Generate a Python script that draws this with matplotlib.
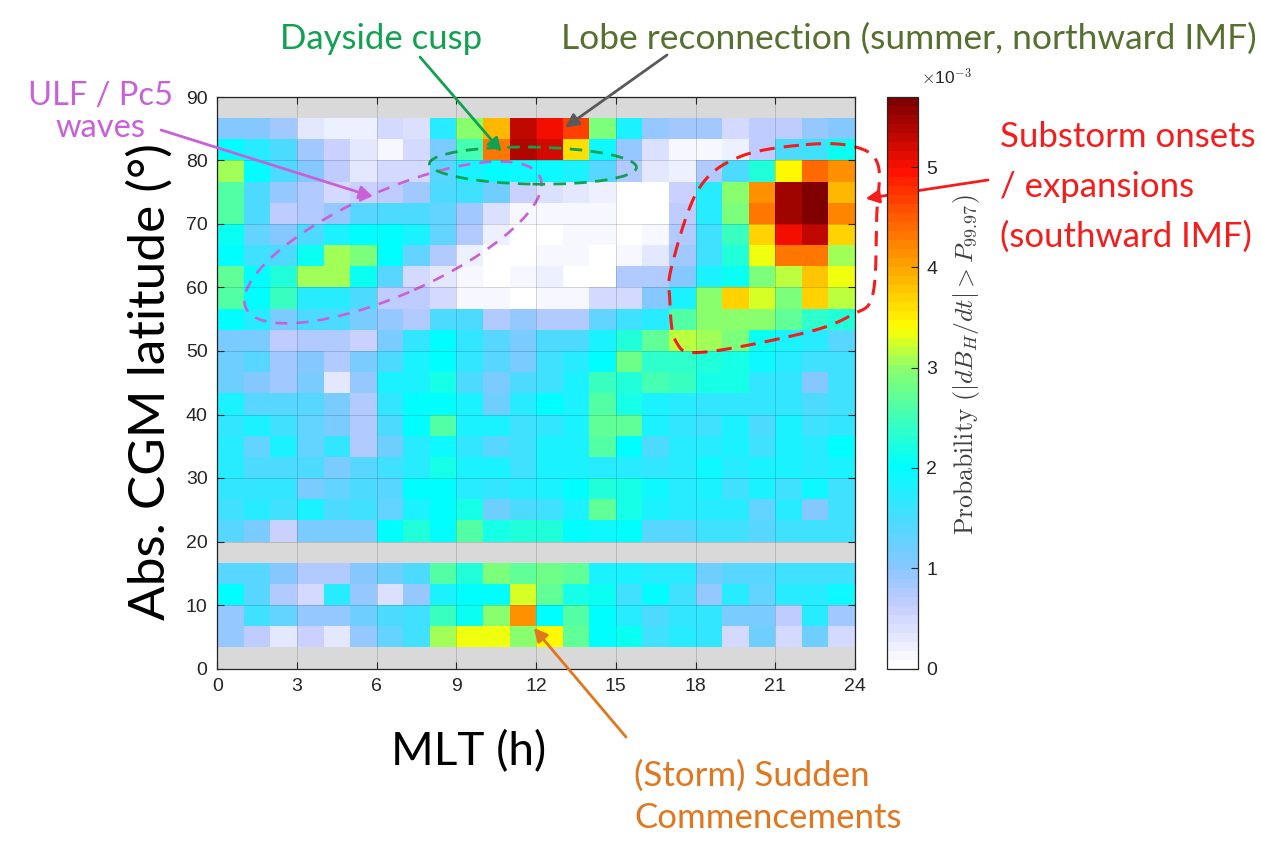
import numpy as np
import matplotlib
matplotlib.use("Agg")
import matplotlib.pyplot as plt
from matplotlib.colors import LinearSegmentedColormap
from matplotlib.patches import Ellipse
from matplotlib.transforms import ScaledTranslation
from matplotlib.ticker import FuncFormatter

plt.rcParams['font.family'] = ['Liberation Sans', 'DejaVu Sans']
plt.rcParams['mathtext.fontset'] = 'cm'

# bins: 1 h in MLT, 10/3 deg in |CGM latitude|
mlt_edges = np.arange(0, 25)
lat_edges = np.linspace(0, 90, 28)

# probability of |dB_H/dt| > P99.97, in units of 1e-3
# rows run north -> south, 86.7 deg down to 20 deg
prob_high = [
    [1.0, 1.05, 0.85, 0.3, 0.2, 0.2, 0.5, 0.4, 1.7, 3.0, 3.9, 5.3, 5.0, 4.7, 2.85, 1.85, 0.95, 0.85, 0.85, 0.5, 0.7, 0.7, 0.95, 1.05],
    [2.0, 1.7, 1.5, 0.85, 0.6, 0.35, 0.15, 0.5, 1.1, 2.5, 4.3, 5.4, 5.25, 3.6, 1.9, 0.95, 0.4, 0.1, 0.1, 0.25, 0.7, 1.5, 1.55, 2.1],
    [3.1, 2.0, 1.5, 1.0, 0.7, 0.3, 0.45, 0.5, 1.4, 1.8, 2.0, 1.95, 1.9, 1.85, 1.4, 0.8, 0.3, 0.2, 0.8, 1.5, 2.3, 3.4, 4.4, 4.1],
    [2.6, 1.5, 0.95, 0.8, 0.5, 0.6, 0.7, 0.85, 1.5, 1.55, 1.2, 0.6, 0.4, 0.3, 0.2, 0.05, 0.05, 0.6, 1.75, 3.0, 4.15, 5.45, 5.65, 3.9],
    [2.6, 1.5, 0.7, 0.8, 0.95, 1.4, 1.5, 1.5, 1.3, 0.85, 0.4, 0.1, 0.15, 0.15, 0.15, 0.05, 0.05, 0.7, 1.75, 2.85, 4.3, 5.45, 5.7, 4.2],
    [2.05, 1.3, 1.05, 1.5, 1.85, 2.0, 2.0, 1.8, 1.3, 0.8, 0.2, 0.08, 0.02, 0.1, 0.1, 0.0, 0.1, 0.8, 1.55, 2.45, 3.7, 5.05, 5.3, 3.7],
    [2.0, 1.6, 1.5, 2.05, 3.1, 2.85, 2.0, 1.25, 0.8, 0.25, 0.05, 0.0, 0.1, 0.1, 0.05, 0.1, 0.3, 0.85, 1.6, 2.3, 3.3, 4.35, 4.35, 3.1],
    [2.7, 2.0, 2.3, 3.1, 3.1, 2.05, 1.4, 0.5, 0.3, 0.1, 0.05, 0.1, 0.2, 0.05, 0.05, 0.8, 0.8, 1.05, 1.8, 2.05, 2.85, 3.2, 3.8, 3.3],
    [2.6, 2.0, 2.45, 1.75, 1.75, 1.5, 0.7, 0.7, 0.5, 0.15, 0.15, 0.0, 0.15, 0.15, 0.5, 0.5, 1.0, 1.8, 3.0, 3.7, 3.25, 2.85, 3.7, 3.2],
    [2.0, 1.75, 1.1, 1.5, 1.5, 1.1, 0.95, 0.8, 1.5, 1.5, 0.8, 0.95, 0.8, 0.8, 1.3, 1.55, 1.75, 2.6, 3.0, 3.0, 3.0, 2.75, 2.35, 2.3],
    [1.1, 1.1, 0.65, 0.8, 0.8, 0.6, 1.1, 1.65, 2.0, 1.65, 1.4, 1.1, 1.5, 1.5, 1.8, 2.3, 2.75, 3.2, 3.05, 2.85, 2.05, 1.8, 1.7, 1.4],
    [1.2, 1.35, 0.85, 1.0, 0.8, 1.1, 1.5, 1.8, 2.0, 1.65, 1.4, 1.1, 1.55, 1.7, 2.0, 2.8, 2.4, 2.4, 2.3, 2.15, 1.9, 1.75, 1.6, 1.55],
    [1.2, 1.0, 0.85, 1.1, 0.35, 0.95, 1.8, 1.85, 2.15, 1.5, 1.1, 1.5, 1.55, 1.8, 2.45, 2.3, 2.5, 2.45, 2.15, 2.15, 1.65, 1.65, 1.0, 1.55],
    [1.85, 1.4, 1.4, 1.4, 1.1, 0.8, 1.65, 2.0, 2.0, 1.85, 1.2, 1.7, 2.0, 1.8, 2.6, 2.15, 1.8, 1.7, 1.65, 1.65, 1.65, 1.65, 1.5, 1.6],
    [1.65, 1.8, 1.55, 1.3, 1.1, 0.8, 1.5, 2.0, 2.6, 1.8, 1.85, 1.55, 1.65, 1.8, 2.7, 2.7, 1.8, 1.65, 1.6, 1.8, 1.5, 1.85, 1.6, 1.65],
    [1.75, 1.3, 1.8, 1.3, 1.65, 0.8, 1.2, 1.75, 1.9, 1.65, 1.4, 1.6, 1.8, 1.8, 2.6, 2.0, 1.5, 1.7, 1.7, 1.8, 1.6, 1.85, 1.7, 2.0],
    [1.75, 1.5, 1.5, 1.5, 1.1, 1.4, 1.6, 1.75, 2.15, 1.8, 1.8, 1.55, 1.8, 1.8, 1.75, 1.7, 1.65, 1.7, 1.9, 1.7, 1.85, 1.8, 1.7, 1.8],
    [1.65, 1.65, 1.65, 1.1, 1.3, 1.5, 1.4, 2.0, 2.0, 1.7, 1.65, 1.7, 1.8, 2.0, 2.3, 2.2, 1.9, 1.7, 1.8, 1.55, 1.85, 1.6, 1.9, 1.55],
    [1.55, 1.7, 1.55, 1.8, 1.5, 1.6, 1.3, 1.85, 2.0, 2.15, 1.2, 1.5, 1.6, 1.85, 2.7, 2.15, 1.8, 1.75, 1.75, 1.75, 1.3, 1.7, 1.05, 1.6],
    [1.4, 1.1, 0.6, 1.1, 1.1, 1.1, 2.0, 2.3, 2.0, 2.65, 2.15, 2.25, 2.3, 2.0, 1.95, 2.0, 1.4, 1.4, 1.55, 1.6, 1.4, 1.55, 1.6, 1.55],
]
# 16.7 deg down to 3.3 deg
prob_low = [
    [1.4, 1.4, 1.0, 0.8, 0.8, 1.0, 1.2, 1.5, 2.6, 2.3, 2.85, 2.75, 2.8, 2.7, 1.8, 1.85, 1.7, 1.7, 1.2, 1.4, 1.4, 1.55, 1.55, 1.55],
    [2.0, 1.4, 0.8, 0.5, 1.7, 0.95, 0.4, 0.95, 1.8, 2.0, 2.0, 3.25, 2.75, 2.15, 2.1, 1.55, 2.0, 1.55, 0.95, 1.7, 1.3, 1.75, 1.75, 1.9],
    [0.95, 1.55, 1.3, 0.95, 0.95, 1.2, 1.5, 1.6, 2.45, 2.05, 2.95, 4.1, 2.0, 2.6, 2.0, 1.7, 1.5, 1.65, 1.65, 1.15, 1.15, 0.65, 1.75, 0.85],
    [0.95, 0.7, 0.35, 0.6, 0.35, 0.95, 1.3, 1.55, 3.05, 3.3, 3.35, 2.95, 3.4, 2.75, 2.0, 2.1, 1.6, 1.7, 1.65, 0.5, 1.2, 0.5, 1.2, 0.5],
]

cbar_ticks = [0, 1, 2, 3, 4, 5]
vmax = 5.7

# stack south -> north, empty bands (no stations) left as NaN
empty = [np.nan] * 24
grid = np.array([empty] + prob_low[::-1] + [empty] + prob_high[::-1] + [empty]) * 1e-3
grid = np.ma.masked_invalid(grid)

# white -> blue -> cyan -> yellow -> red colour scale, 64 levels
anchors = [
    (0.0, (1.0, 1.0, 1.0)),
    (0.6, (0.77, 0.80, 1.0)),
    (1.0, (0.52, 0.78, 1.0)),
    (1.5, (0.27, 0.87, 1.0)),
    (2.0, (0.0, 1.0, 1.0)),
    (2.5, (0.25, 1.0, 0.72)),
    (3.0, (0.55, 1.0, 0.42)),
    (3.4, (1.0, 1.0, 0.0)),
    (4.0, (1.0, 0.66, 0.0)),
    (4.5, (1.0, 0.38, 0.0)),
    (5.0, (1.0, 0.06, 0.0)),
    (5.7, (0.5, 0.0, 0.0)),
]
cmap = LinearSegmentedColormap.from_list('wjet', [(v / vmax, c) for v, c in anchors]).resampled(64)
cmap.set_bad('#d9d9d9')

W, H = 1261, 843
fig = plt.figure(figsize=(W / 100, H / 100), dpi=100)


def fx(px):
    return px / W


def fy(py):
    return 1 - py / H


ax = fig.add_axes([fx(217.3), fy(668.5), (855 - 217.3) / W, (668.5 - 97) / H])
mesh = ax.pcolormesh(mlt_edges, lat_edges, grid, cmap=cmap, vmin=0, vmax=vmax * 1e-3)
ax.set_xlim(0, 24)
ax.set_ylim(0, 90)
ax.set_xticks(range(0, 25, 3))
ax.set_yticks(range(0, 91, 10))
ax.tick_params(direction='in', top=True, right=True, length=5, width=0.8,
               colors='#262626', labelsize=14, pad=7)
ax.grid(True, color='k', alpha=0.15, lw=0.7)
ax.set_axisbelow(False)
for s in ax.spines.values():
    s.set_color('#262626')
    s.set_linewidth(0.9)

cax = fig.add_axes([fx(887), fy(668.5), 31 / W, (668.5 - 97) / H])
cb = fig.colorbar(mesh, cax=cax, ticks=np.array(cbar_ticks) * 1e-3)
cb.ax.yaxis.set_major_formatter(FuncFormatter(lambda v, p: f"{v * 1e3:.0f}"))
cb.ax.tick_params(direction='in', length=5, width=0.8, labelsize=14, colors='#262626', pad=6)
cb.outline.set_edgecolor('#262626')
cb.outline.set_linewidth(0.9)
fig.text(fx(921), fy(77), r'$\times$10$^{-3}$', fontsize=12.5, color='#262626', va='center')
fig.text(fx(966), fy(365), r'$\mathrm{Probability}\ (|dB_H/dt| > P_{99.97})$', rotation=90,
         ha='center', va='center', fontsize=18.5, color='#404040')

# axis titles
fig.text(fx(150), fy(381), 'Abs. CGM latitude (°)', rotation=90, ha='center', va='center',
         fontsize=37, family='Lato', color='black')
fig.text(fx(469), fy(765), 'MLT (h)', ha='center', va='baseline', fontsize=33,
         family='Lato', color='black')


def px_ellipse(cx, cy, w, h, angle, **kw):
    # ellipse centred on a data point, size given in pixels
    tr = fig.dpi_scale_trans + ScaledTranslation(cx, cy, ax.transData)
    ax.add_patch(Ellipse((0, 0), w / fig.dpi, h / fig.dpi, angle=angle, transform=tr,
                         fill=False, clip_on=False, **kw))


def closed_spline(pts, n=24):
    # Catmull-Rom curve through the points, closed loop
    pts = np.asarray(pts, float)
    k = len(pts)
    t = np.linspace(0, 1, n, endpoint=False)[:, None]
    out = []
    for i in range(k):
        p0, p1, p2, p3 = pts[i - 1], pts[i], pts[(i + 1) % k], pts[(i + 2) % k]
        out.append(0.5 * (2 * p1 + (-p0 + p2) * t + (2 * p0 - 5 * p1 + 4 * p2 - p3) * t ** 2
                          + (-p0 + 3 * p1 - 3 * p2 + p3) * t ** 3))
    out = np.vstack(out)
    return np.vstack([out, out[:1]])


c_cusp = '#12a150'
c_lobe = '#56702f'
c_ulf = '#c860d8'
c_sub = '#f51c1c'
c_sc = '#e0761e'
c_gray = '#595959'

# ULF / Pc5 region
px_ellipse(6.61, 67.1, 322, 104, 24, ec=c_ulf, lw=1.9, ls=(0, (4.5, 3.5)))
# dayside cusp
px_ellipse(11.88, 79.2, 207, 37, -1, ec=c_cusp, lw=2.0, ls=(0, (4.5, 3)))
# substorm region
blob = closed_spline([(22.15, 82.5), (23.96, 82.2), (24.86, 79.4), (24.82, 71.5), (24.67, 58.9),
                      (23.88, 55.7), (22.15, 52.9), (18.27, 49.8), (17.26, 51.5), (17.03, 58.1),
                      (17.1, 63.3), (18.1, 75.4), (19.67, 80.6)])
ax.plot(blob[:, 0], blob[:, 1], color=c_sub, lw=2.2, ls=(0, (5, 3)), clip_on=False)


def arrow(head, tail_px, color):
    ax.annotate('', xy=head, xycoords='data', xytext=(fx(tail_px[0]), fy(tail_px[1])),
                textcoords='figure fraction', annotation_clip=False,
                arrowprops=dict(arrowstyle='-|>', color=color, lw=2, mutation_scale=20,
                                shrinkA=0, shrinkB=0))


arrow((10.7, 81.4), (420, 57), c_cusp)
arrow((13.09, 85.2), (667, 55), c_gray)
arrow((5.86, 74.3), (161, 130), c_ulf)
arrow((24.4, 74.0), (988, 180), c_sub)
arrow((11.91, 6.4), (626, 737), c_sc)

lab = dict(family='Lato', fontsize=25, va='baseline')
fig.text(fx(381), fy(49), 'Dayside cusp', color=c_cusp, ha='center', **lab)
fig.text(fx(909), fy(49), 'Lobe reconnection (summer, northward IMF)', color=c_lobe, ha='center',
         family='Lato', fontsize=25.5, va='baseline')
for txt, yb in [('ULF / Pc5', 105), ('waves', 137)]:
    fig.text(fx(100), fy(yb), txt, color=c_ulf, ha='center', family='Lato', fontsize=23.5,
             va='baseline')
for txt, yb in [('Substorm onsets', 147), ('/ expansions', 197), ('(southward IMF)', 247)]:
    fig.text(fx(1000), fy(yb), txt, color=c_sub, ha='left', **lab)
for txt, yb in [('(Storm) Sudden', 786), ('Commencements', 828)]:
    fig.text(fx(634), fy(yb), txt, color=c_sc, ha='left', **lab)

fig.savefig('out.png', dpi=100)
